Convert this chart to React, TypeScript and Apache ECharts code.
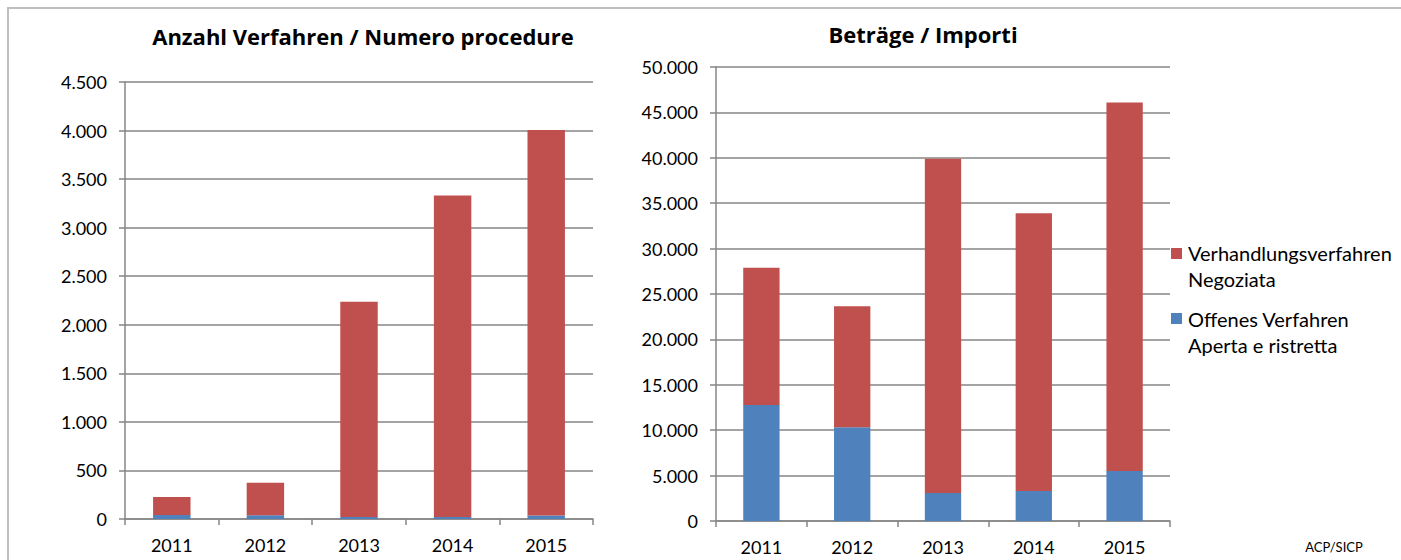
import React, { useEffect, useRef } from "react";
import * as echarts from "echarts";

const years = ["2011", "2012", "2013", "2014", "2015"];
// Left chart: number of procedures
const countOpen = [40, 38, 20, 20, 35];
const countNegotiated = [186, 336, 2217, 3310, 3971];
// Right chart: amounts
const amountOpen = [12780, 10330, 3080, 3300, 5500];
const amountNegotiated = [15120, 13330, 36810, 30580, 40580];

const leftTicks = { min: 0, max: 4500, interval: 500 };
const rightTicks = { min: 0, max: 50000, interval: 5000 };

const nameNeg = "Verhandlungsverfahren Negoziata";
const nameOpen = "Offenes Verfahren Aperta e ristretta";

const RED = "#C0504D";
const BLUE = "#4F81BD";
const GRID = "#868686";
const FONT = "Lato, 'Open Sans', sans-serif";
const TITLE_FONT = "'Open Sans', Lato, sans-serif";

const fmt = (v: number) => String(v).replace(/\B(?=(\d{3})+(?!\d))/g, ".");

export default function App() {
  const ref = useRef<HTMLDivElement>(null);
  useEffect(() => {
    if (!ref.current) return;
    const chart = echarts.init(ref.current, null, { renderer: "svg" });
    const yAxisCommon = {
      type: "value" as const,
      axisLine: { show: true, lineStyle: { color: GRID, width: 1.5 } },
      axisTick: { show: true, length: 6, lineStyle: { color: GRID, width: 1.5 } },
      splitLine: { show: true, lineStyle: { color: GRID, width: 1.5 } },
      axisLabel: { color: "#000", fontFamily: FONT, fontSize: 18, margin: 18, formatter: (v: number) => fmt(v) },
    };
    const xAxisCommon = {
      type: "category" as const,
      data: years,
      axisLine: { show: true, lineStyle: { color: GRID, width: 1.5 } },
      axisTick: { show: true, length: 6, alignWithLabel: false, lineStyle: { color: GRID, width: 1.5 } },
      axisLabel: { color: "#000", fontFamily: FONT, fontSize: 18, margin: 17 },
    };
    const legendText = (text: string, y: number) => ({
      type: "text",
      x: 1188,
      y,
      style: { text, font: `20px ${FONT}`, fill: "#000", verticalAlign: "middle" },
    });
    chart.setOption({
      animation: false,
      backgroundColor: "#fff",
      title: [
        {
          text: "Anzahl Verfahren / Numero procedure",
          left: 358,
          textAlign: "center",
          top: 20,
          textStyle: { fontFamily: TITLE_FONT, fontSize: 22, fontWeight: "bold", color: "#000" },
        },
        {
          text: "Beträge / Importi",
          left: 918,
          textAlign: "center",
          top: 18,
          textStyle: { fontFamily: TITLE_FONT, fontSize: 22, fontWeight: "bold", color: "#000" },
        },
      ],
      grid: [
        { left: 125, right: 808, top: 82, bottom: 41, containLabel: false },
        { left: 716, right: 231, top: 67, bottom: 39, containLabel: false },
      ],
      xAxis: [
        { ...xAxisCommon, gridIndex: 0 },
        { ...xAxisCommon, gridIndex: 1 },
      ],
      yAxis: [
        { ...yAxisCommon, gridIndex: 0, ...leftTicks },
        { ...yAxisCommon, gridIndex: 1, ...rightTicks },
      ],
      series: [
        { name: nameOpen, type: "bar", stack: "a", xAxisIndex: 0, yAxisIndex: 0, data: countOpen, barWidth: "40%", itemStyle: { color: BLUE } },
        { name: nameNeg, type: "bar", stack: "a", xAxisIndex: 0, yAxisIndex: 0, data: countNegotiated, barWidth: "40%", itemStyle: { color: RED } },
        { name: nameOpen, type: "bar", stack: "b", xAxisIndex: 1, yAxisIndex: 1, data: amountOpen, barWidth: "40%", itemStyle: { color: BLUE } },
        { name: nameNeg, type: "bar", stack: "b", xAxisIndex: 1, yAxisIndex: 1, data: amountNegotiated, barWidth: "40%", itemStyle: { color: RED } },
      ],
      graphic: [
        {
          type: "rect",
          z: -10,
          shape: { x: 8, y: 8, width: 1500, height: 700 },
          style: { fill: "none", stroke: "#bfbfbf", lineWidth: 2 },
        },
        { type: "rect", shape: { x: 1171, y: 248, width: 11, height: 11 }, style: { fill: RED } },
        legendText("Verhandlungsverfahren", 253),
        legendText("Negoziata", 279),
        { type: "rect", shape: { x: 1171, y: 313, width: 11, height: 11 }, style: { fill: BLUE } },
        legendText("Offenes Verfahren", 319),
        legendText("Aperta e ristretta", 345),
        {
          type: "text",
          x: 1334,
          y: 547,
          style: { text: "ACP/SICP", font: `13px ${FONT}`, fill: "#000", align: "center", verticalAlign: "middle" },
        },
      ],
    });
    return () => chart.dispose();
  }, []);
  return <div ref={ref} style={{ position: "fixed", left: 0, top: 0, width: 1401, height: 560 }} />;
}
